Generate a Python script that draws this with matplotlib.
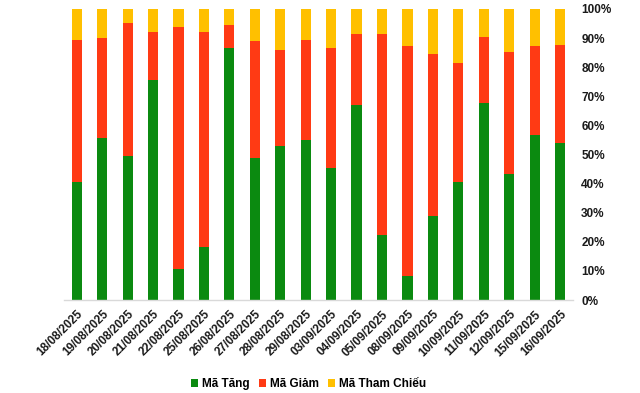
import matplotlib
matplotlib.use("Agg")
import matplotlib.pyplot as plt
import numpy as np

plt.rcParams['font.family'] = ['Liberation Sans', 'DejaVu Sans']

dates = ["18/08/2025", "19/08/2025", "20/08/2025", "21/08/2025", "22/08/2025",
         "25/08/2025", "26/08/2025", "27/08/2025", "28/08/2025", "29/08/2025",
         "03/09/2025", "04/09/2025", "05/09/2025", "08/09/2025", "09/09/2025",
         "10/09/2025", "11/09/2025", "12/09/2025", "15/09/2025", "16/09/2025"]
ma_tang = [40.7, 55.8, 49.6, 75.6, 10.7, 18.2, 86.7, 48.9, 53.0, 55.1,
           45.5, 67.0, 22.3, 8.4, 29.0, 40.7, 67.7, 43.4, 56.7, 54.0]
ma_giam = [48.6, 34.2, 45.6, 16.5, 83.1, 73.9, 7.8, 40.1, 32.9, 34.2,
           41.1, 24.4, 69.1, 78.9, 55.5, 40.7, 22.7, 41.8, 30.6, 33.6]
ma_tham_chieu = [10.7, 10.0, 4.8, 7.9, 6.2, 7.9, 5.5, 11.0, 14.1, 10.7,
                 13.4, 8.6, 8.6, 12.7, 15.5, 18.6, 9.6, 14.8, 12.7, 12.4]

series_names = ["Mã Tăng", "Mã Giảm", "Mã Tham Chiếu"]
colors = ["#0B8A10", "#FF3A14", "#FFC000"]

fig = plt.figure(figsize=(6.4, 3.93), dpi=100)
ax = fig.add_axes([0.1, 0.2366, 0.795, 0.7405])

x = np.arange(len(dates))
w = 0.4
t = np.array(ma_tang)
g = np.array(ma_giam)
r = np.array(ma_tham_chieu)
ax.bar(x, t, w, color=colors[0], label=series_names[0])
ax.bar(x, g, w, bottom=t, color=colors[1], label=series_names[1])
ax.bar(x, r, w, bottom=t + g, color=colors[2], label=series_names[2])

ax.set_xlim(-0.5, len(dates) - 0.5)
ax.set_ylim(0, 100)
ax.yaxis.tick_right()
ax.set_yticks(np.arange(0, 101, 10))
ax.set_yticklabels([f"{v}%" for v in range(0, 101, 10)], fontsize=8.5, fontweight='bold', color='#1a1a1a')
ax.tick_params(axis='y', length=0, pad=6)
ax.set_xticks(x)
ax.set_xticklabels(dates, rotation=45, ha='right', rotation_mode='anchor',
                   fontsize=8.5, fontweight='bold', color='#1a1a1a')
ax.tick_params(axis='x', length=0, pad=6)
for s in ['top', 'left', 'right']:
    ax.spines[s].set_visible(False)
ax.spines['bottom'].set_color('#d9d9d9')
ax.spines['bottom'].set_linewidth(1)

fig.legend(loc='center', bbox_to_anchor=(0.482, 0.022), ncol=3, frameon=False,
           handlelength=0.6, handleheight=0.6, handletextpad=0.3, columnspacing=0.8,
           prop={'size': 8.5, 'weight': 'bold'})

fig.savefig("out.png", dpi=100)
